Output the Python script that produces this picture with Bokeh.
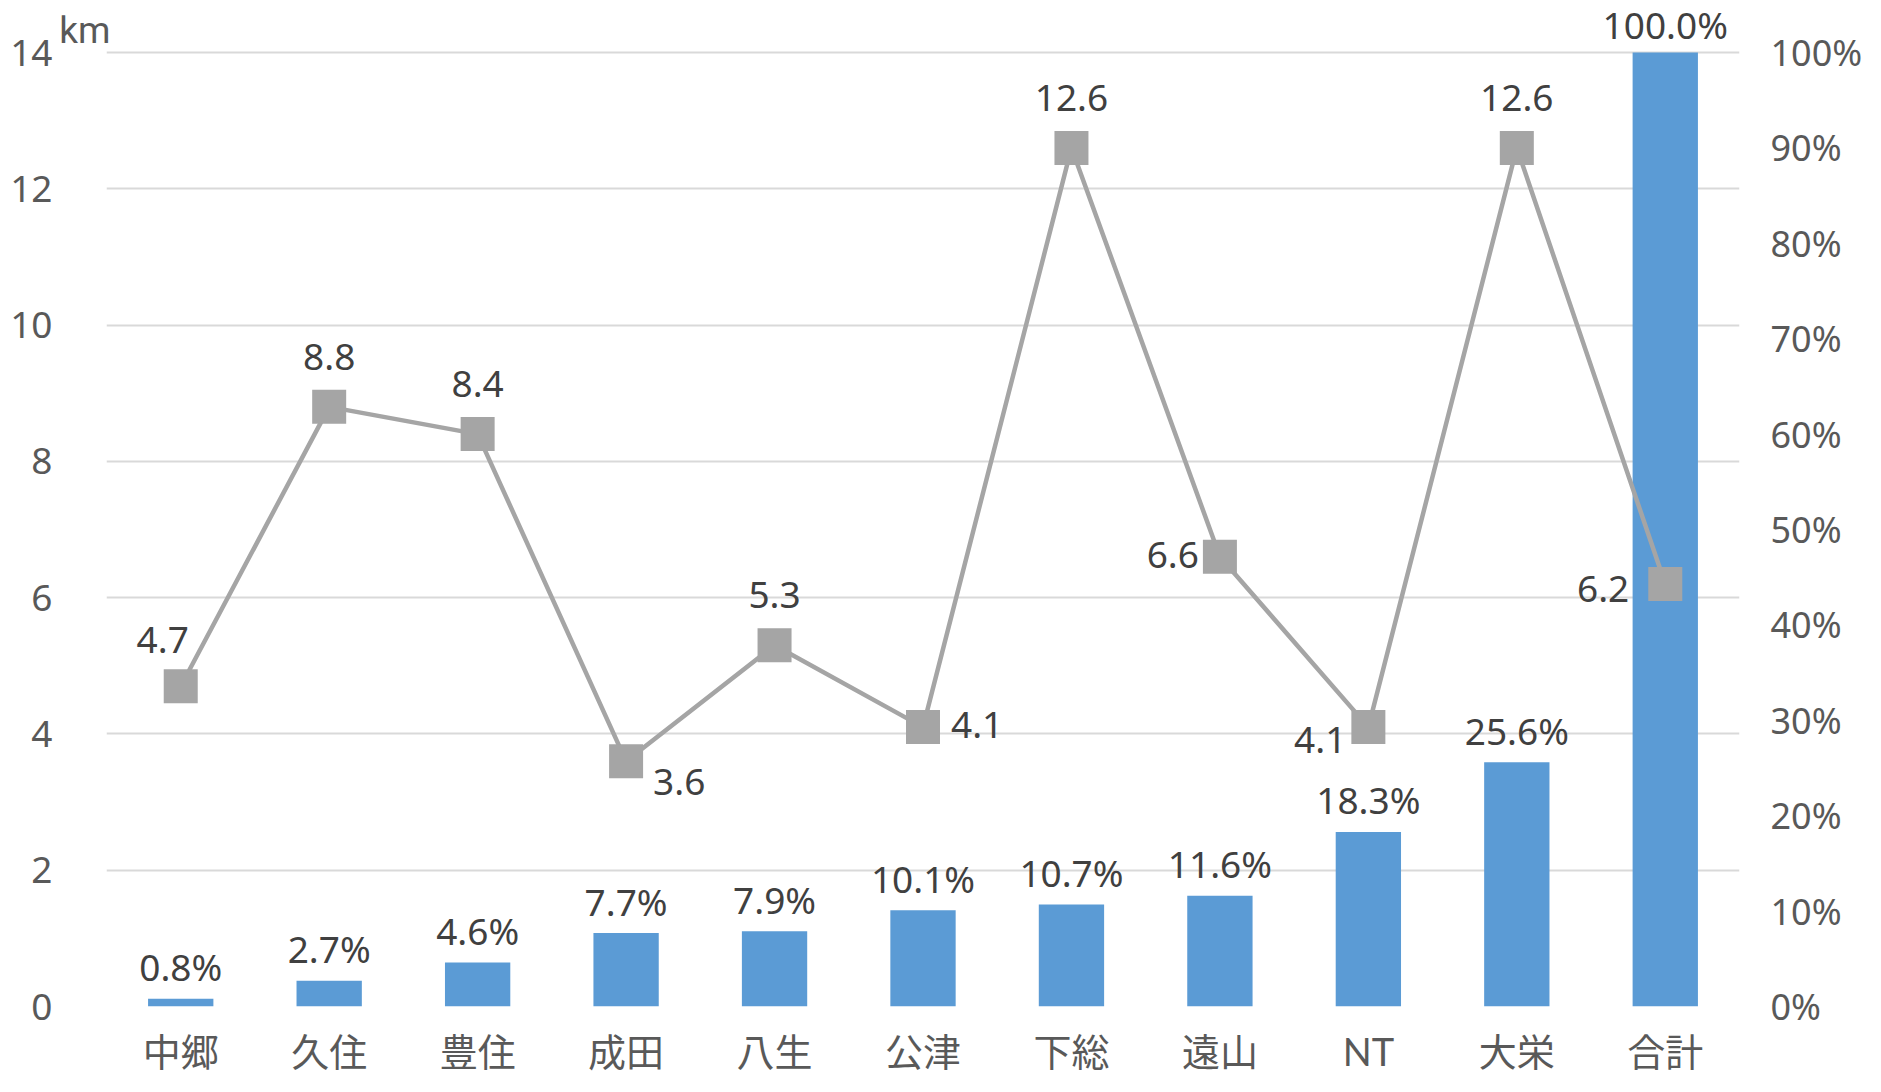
from bokeh.plotting import figure
from bokeh.models import (ColumnDataSource, Range1d, FactorRange, LinearAxis,
                          SingleIntervalTicker, FixedTicker, PrintfTickFormatter,
                          CustomJSTickFormatter)
from bokeh.core.properties import value, field
from bokeh.embed import file_html
from bokeh.resources import INLINE

# ---- data ----
categories = ["中郷", "久住", "豊住", "成田", "八生", "公津", "下総", "遠山", "NT", "大栄", "合計"]
share_pct = [0.8, 2.7, 4.6, 7.7, 7.9, 10.1, 10.7, 11.6, 18.3, 25.6, 100.0]
distance_km = [4.7, 8.8, 8.4, 3.6, 5.3, 4.1, 12.6, 6.6, 4.1, 12.6, 6.2]
km_axis_max = 14
pct_axis_max = 100
left_ticks_interval = 2
right_ticks_interval = 10
unit_text = "km"

# ---- layout / label placement (style only) ----
W, H = 1865, 1076
FRAME_TOP, FRAME_BOTTOM = 0, 1006      # frame edges (px from top)
AXIS_TOP = 52                          # where 14 km / 100 % sit
headroom = (AXIS_TOP - FRAME_TOP) / (FRAME_BOTTOM - AXIS_TOP)
unit_pos = km_axis_max + 0.33          # vertical spot of the unit text

km_label_align = ["center", "center", "center", "left", "center", "left",
                  "center", "right", "right", "center", "right"]
km_label_dx = [-18, 0, 0, 27, 0, 28, 0, -21, -22, 0, -36]
km_label_dy = [-46, -50, -50, 21, -50, -2, -50, -2, 13, -50, 5]
bar_label_dy = [-32, -32, -32, -32, -32, -32, -32, -32, -32, -32, -28]

BAR_COLOR = "#5B9BD5"
LINE_COLOR = "#A5A5A5"
GRID_COLOR = "#D9D9D9"
TICK_COLOR = "#595959"
LABEL_COLOR = "#404040"


def plain_axis(ax):
    ax.axis_line_color = None
    ax.major_tick_line_color = None
    ax.minor_tick_line_color = None
    ax.major_tick_out = 0
    ax.major_tick_in = 0
    ax.minor_tick_out = 0
    ax.minor_tick_in = 0


p = figure(width=W, height=H, output_backend="svg", toolbar_location=None,
           x_range=FactorRange(*categories, range_padding=0),
           y_range=Range1d(0, km_axis_max * (1 + headroom)),
           min_border_left=106, min_border_right=122,
           min_border_top=FRAME_TOP, min_border_bottom=H - FRAME_BOTTOM)
p.extra_y_ranges = {"pct": Range1d(0, pct_axis_max * (1 + headroom))}
p.outline_line_color = None
p.background_fill_color = "white"
p.border_fill_color = "white"

# left axis (km)
left_ticker = SingleIntervalTicker(interval=left_ticks_interval)
main_axis = p.yaxis[0]
main_axis.ticker = left_ticker
plain_axis(main_axis)
main_axis.major_label_standoff = 4
main_axis.major_label_text_font = "Noto Sans"
main_axis.major_label_text_font_size = "37px"
main_axis.major_label_text_color = TICK_COLOR

# unit text "km" as a one-tick axis next to the frame
unit_axis = LinearAxis(ticker=FixedTicker(ticks=[unit_pos]),
                       formatter=CustomJSTickFormatter(code=f"return '{unit_text}';"))
plain_axis(unit_axis)
unit_axis.major_label_standoff = -4
unit_axis.major_label_text_font = "Roboto"
unit_axis.major_label_text_font_size = "37px"
unit_axis.major_label_text_color = TICK_COLOR
p.left = [unit_axis, main_axis]

# grid
p.xgrid.grid_line_color = None
p.ygrid.ticker = left_ticker
p.ygrid.grid_line_color = GRID_COLOR
p.ygrid.grid_line_width = 2

# right axis (%)
raxis = LinearAxis(y_range_name="pct",
                   ticker=SingleIntervalTicker(interval=right_ticks_interval),
                   formatter=PrintfTickFormatter(format="%d%%"))
plain_axis(raxis)
raxis.major_label_standoff = 31
raxis.major_label_text_font = "Noto Sans"
raxis.major_label_text_font_size = "36px"
raxis.major_label_text_color = TICK_COLOR
p.add_layout(raxis, "right")

# x axis
plain_axis(p.xaxis[0])
p.xaxis.major_label_standoff = 21
p.xaxis.major_label_text_font = "Lato, Noto Sans CJK JP"
p.xaxis.major_label_text_font_size = "38px"
p.xaxis.major_label_text_line_height = 1.0
p.xaxis.major_label_text_color = TICK_COLOR

# bars
bar_src = ColumnDataSource(dict(cat=categories, pct=share_pct,
                                lab=[f"{v:.1f}%" for v in share_pct],
                                dy=bar_label_dy))
p.vbar(x="cat", top="pct", bottom=0, width=0.44, source=bar_src,
       y_range_name="pct", fill_color=BAR_COLOR, line_color=None)
p.text(x="cat", y="pct", text="lab", source=bar_src, y_range_name="pct",
       text_align="center", text_baseline="alphabetic", y_offset="dy",
       text_font=value("Noto Sans"), text_font_size="37px", text_color=LABEL_COLOR)

# line
line_src = ColumnDataSource(dict(cat=categories, km=distance_km,
                                 lab=[f"{v:.1f}" for v in distance_km],
                                 align=km_label_align, dx=km_label_dx, dy=km_label_dy))
p.line(x="cat", y="km", source=line_src, line_color=LINE_COLOR, line_width=4.5)
p.scatter(x="cat", y="km", source=line_src, marker="square", size=34,
          fill_color=LINE_COLOR, line_color=None)
p.text(x="cat", y="km", text="lab", source=line_src,
       text_align=field("align"), text_baseline="alphabetic",
       x_offset="dx", y_offset="dy",
       text_font=value("Noto Sans"), text_font_size="37px", text_color=LABEL_COLOR)

open("out.html", "w").write(file_html(p, INLINE))
